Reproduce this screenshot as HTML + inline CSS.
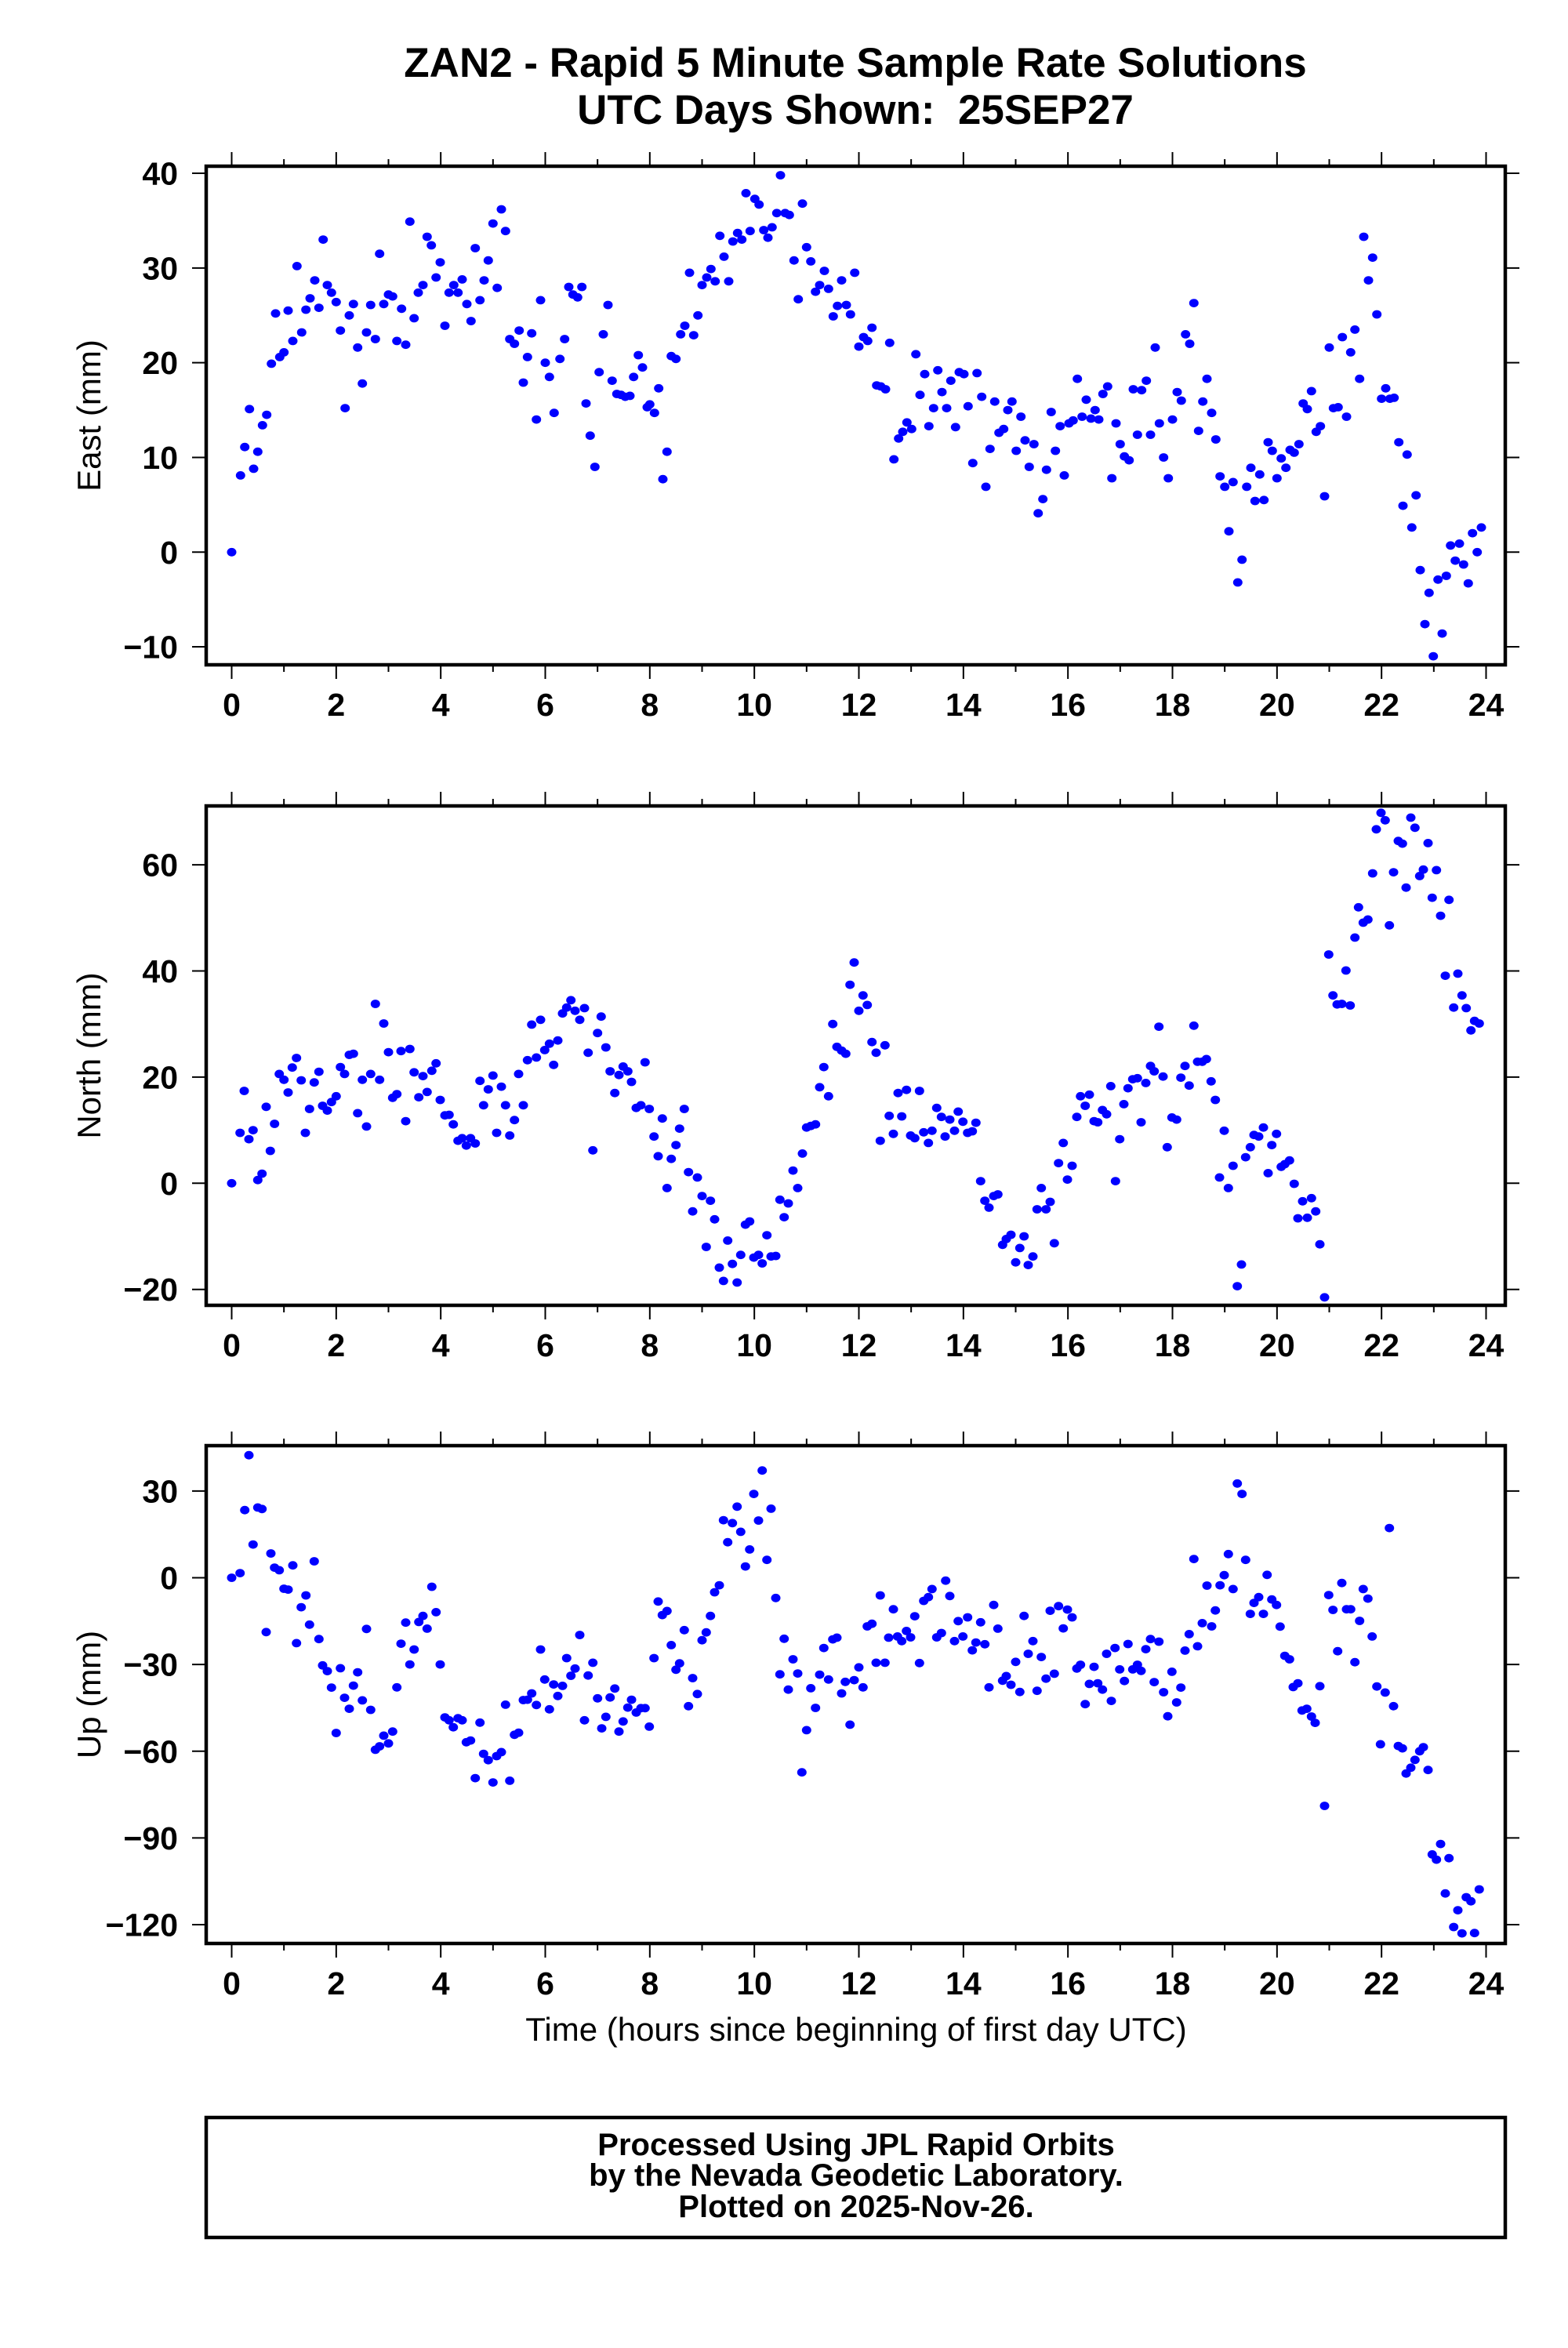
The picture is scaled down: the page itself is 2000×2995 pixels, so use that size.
<!DOCTYPE html>
<html><head><meta charset="utf-8">
<style>
html,body{margin:0;padding:0;background:#fff;}
svg{display:block;font-family:"Liberation Sans",Arial,sans-serif;}
</style></head>
<body>
<svg id="chart" width="2000" height="2995" viewBox="0 0 2000 2995" xmlns="http://www.w3.org/2000/svg">
<rect x="0" y="0" width="2000" height="2995" fill="#fff"/>
<text x="1091" y="98" font-size="53" font-weight="bold" text-anchor="middle">ZAN2 - Rapid 5 Minute Sample Rate Solutions</text>
<text x="1091" y="158" font-size="53" font-weight="bold" text-anchor="middle">UTC Days Shown:&#160; 25SEP27</text>
<g id="panels"></g>
<text x="1092" y="2603" font-size="42" text-anchor="middle">Time (hours since beginning of first day UTC)</text>
<rect x="263" y="2701" width="1657" height="153" fill="none" stroke="#000" stroke-width="4.5"/>
<text x="1092" y="2749" font-size="40" font-weight="bold" text-anchor="middle">Processed Using JPL Rapid Orbits</text>
<text x="1092" y="2788" font-size="40" font-weight="bold" text-anchor="middle">by the Nevada Geodetic Laboratory.</text>
<text x="1092" y="2828" font-size="40" font-weight="bold" text-anchor="middle">Plotted on 2025-Nov-26.</text>
</svg>
<script>
const eastT=[0,0.17,0.25,0.34,0.42,0.5,0.59,0.67,0.76,0.84,0.92,1.0,1.08,1.17,1.25,1.34,1.42,1.5,1.59,1.67,1.75,1.83,1.91,2.0,2.08,2.17,2.25,2.33,2.41,2.5,2.58,2.66,2.75,2.83,2.91,3.0,3.08,3.16,3.25,3.33,3.41,3.49,3.57,3.66,3.74,3.82,3.91,3.99,4.08,4.16,4.25,4.33,4.41,4.5,4.58,4.66,4.75,4.83,4.91,5.0,5.08,5.16,5.24,5.32,5.41,5.5,5.58,5.66,5.74,5.83,5.91,6.0,6.08,6.17,6.28,6.37,6.45,6.53,6.62,6.7,6.78,6.86,6.95,7.03,7.11,7.2,7.28,7.37,7.45,7.53,7.62,7.69,7.78,7.86,7.95,8.0,8.09,8.17,8.25,8.33,8.41,8.5,8.59,8.67,8.76,8.84,8.92,9.0,9.09,9.17,9.25,9.34,9.42,9.51,9.59,9.68,9.76,9.84,9.92,10.01,10.09,10.18,10.26,10.34,10.43,10.5,10.59,10.67,10.76,10.84,10.92,11.0,11.08,11.17,11.25,11.34,11.42,11.51,11.59,11.67,11.76,11.84,11.92,12.0,12.09,12.17,12.25,12.34,12.42,12.51,12.59,12.67,12.76,12.84,12.92,13.01,13.09,13.17,13.26,13.34,13.43,13.51,13.59,13.68,13.76,13.85,13.92,14.01,14.09,14.18,14.26,14.35,14.43,14.51,14.6,14.68,14.77,14.85,14.93,15.01,15.1,15.18,15.26,15.35,15.43,15.52,15.59,15.68,15.76,15.85,15.93,16.02,16.1,16.18,16.27,16.35,16.44,16.52,16.59,16.67,16.76,16.84,16.92,17.0,17.08,17.17,17.25,17.33,17.41,17.5,17.58,17.67,17.75,17.83,17.92,18.0,18.09,18.17,18.25,18.33,18.41,18.5,18.58,18.66,18.75,18.83,18.91,19.0,19.08,19.16,19.25,19.33,19.42,19.5,19.58,19.67,19.75,19.83,19.91,20.0,20.08,20.17,20.25,20.33,20.42,20.5,20.58,20.66,20.75,20.83,20.91,21.0,21.08,21.17,21.25,21.33,21.41,21.49,21.58,21.66,21.75,21.83,21.91,22.0,22.08,22.16,22.24,22.33,22.41,22.49,22.58,22.66,22.74,22.83,22.91,22.99,23.08,23.16,23.24,23.32,23.41,23.49,23.57,23.66,23.74,23.83,23.91];
const eastV=[0,8.1,11.1,15.1,8.8,10.6,13.4,14.5,19.9,25.2,20.6,21.1,25.5,22.3,30.2,23.2,25.6,26.8,28.7,25.8,33.0,28.2,27.4,26.4,23.4,15.2,25.0,26.2,21.6,17.8,23.2,26.1,22.5,31.5,26.2,27.2,27.0,22.3,25.7,21.9,34.9,24.7,27.4,28.2,33.3,32.4,29.0,30.6,23.9,27.4,28.2,27.4,28.8,26.2,24.4,32.1,26.6,28.7,30.8,34.7,27.9,36.2,33.9,22.5,22.0,23.4,17.9,20.6,23.1,14.0,26.6,20.0,18.5,14.7,20.4,22.5,28.0,27.2,26.9,28.0,15.7,12.3,9.0,19.0,23.0,26.1,18.1,16.7,16.6,16.4,16.5,18.5,20.8,19.5,15.3,15.6,14.7,17.3,7.7,10.6,20.7,20.4,23.0,23.9,29.5,22.9,25.0,28.2,29.0,29.9,28.6,33.4,31.2,28.6,32.8,33.7,33.0,37.9,33.9,37.3,36.7,34.0,33.2,34.3,35.8,39.8,35.8,35.6,30.8,26.7,36.8,32.2,30.7,27.5,28.2,29.7,27.8,24.9,26.0,28.7,26.1,25.1,29.5,21.7,22.7,22.3,23.7,17.6,17.5,17.2,22.1,9.8,12.0,12.7,13.7,13.0,20.9,16.6,18.8,13.3,15.2,19.2,16.9,15.2,18.1,13.2,19.0,18.8,15.4,9.4,18.9,16.4,6.9,10.9,15.9,12.6,13.0,15.0,15.9,10.7,14.3,11.8,9.0,11.4,4.1,5.6,8.7,14.8,10.7,13.3,8.1,13.6,13.9,18.3,14.3,16.1,14.1,15.0,14.0,16.7,17.5,7.8,13.6,11.4,10.1,9.7,17.2,12.4,17.1,18.1,12.4,21.6,13.6,10.0,7.8,14.0,16.9,16.0,23.0,22.0,26.3,12.8,15.9,18.3,14.7,11.9,8.0,6.9,2.2,7.4,-3.2,-0.8,6.9,8.9,5.4,8.2,5.5,11.6,10.7,7.8,9.9,8.9,10.8,10.5,11.4,15.7,15.1,17.0,12.7,13.3,5.9,21.6,15.2,15.3,22.7,14.3,21.1,23.5,18.3,33.3,28.7,31.1,25.1,16.2,17.3,16.2,16.3,11.6,4.9,10.3,2.6,6.0,-1.9,-7.6,-4.3,-11.0,-2.9,-8.6,-2.5,0.7,-0.9,0.9,-1.3,-3.3,2.0,0.0,2.6];

const northT=[0,0.16,0.24,0.33,0.41,0.5,0.58,0.66,0.74,0.82,0.91,1.0,1.08,1.16,1.24,1.33,1.41,1.49,1.58,1.67,1.74,1.83,1.91,2.0,2.08,2.16,2.25,2.33,2.41,2.5,2.58,2.66,2.75,2.83,2.91,3.0,3.08,3.16,3.24,3.33,3.41,3.49,3.58,3.66,3.74,3.83,3.91,3.99,4.08,4.16,4.24,4.33,4.41,4.49,4.57,4.66,4.75,4.82,4.91,5.0,5.07,5.16,5.24,5.32,5.41,5.49,5.58,5.66,5.74,5.83,5.91,5.99,6.08,6.16,6.24,6.33,6.41,6.49,6.57,6.66,6.75,6.82,6.91,7.0,7.07,7.16,7.24,7.33,7.41,7.49,7.58,7.65,7.74,7.83,7.91,7.99,8.08,8.16,8.24,8.33,8.41,8.5,8.57,8.66,8.74,8.82,8.91,9.0,9.08,9.16,9.24,9.33,9.41,9.49,9.58,9.67,9.74,9.83,9.91,9.99,10.08,10.15,10.24,10.32,10.41,10.49,10.57,10.65,10.74,10.83,10.92,11.0,11.08,11.17,11.25,11.33,11.42,11.5,11.58,11.67,11.75,11.83,11.91,12.0,12.08,12.16,12.25,12.33,12.41,12.5,12.58,12.66,12.75,12.82,12.91,12.99,13.07,13.16,13.24,13.33,13.4,13.49,13.58,13.65,13.74,13.83,13.9,13.99,14.08,14.17,14.24,14.33,14.41,14.49,14.58,14.66,14.75,14.82,14.91,15.0,15.08,15.16,15.24,15.33,15.41,15.49,15.58,15.66,15.74,15.82,15.91,15.99,16.08,16.17,16.24,16.33,16.41,16.5,16.57,16.66,16.74,16.82,16.91,16.99,17.07,17.15,17.24,17.33,17.4,17.49,17.58,17.65,17.74,17.82,17.9,17.99,18.08,18.16,18.24,18.32,18.41,18.48,18.57,18.65,18.74,18.82,18.9,18.99,19.07,19.16,19.24,19.32,19.4,19.49,19.56,19.65,19.74,19.83,19.9,19.99,20.08,20.15,20.24,20.33,20.4,20.49,20.58,20.66,20.74,20.82,20.91,20.99,21.07,21.15,21.24,21.32,21.4,21.49,21.56,21.65,21.74,21.83,21.9,21.99,22.07,22.15,22.23,22.32,22.4,22.47,22.56,22.64,22.73,22.8,22.89,22.97,23.05,23.13,23.22,23.29,23.38,23.46,23.54,23.62,23.71,23.78,23.87];
const northV=[0,9.5,17.4,8.3,10.0,0.6,1.8,14.4,6.1,11.2,20.6,19.5,17.1,21.8,23.6,19.4,9.5,14.0,19.0,21.0,14.6,13.7,15.3,16.4,21.9,20.6,24.2,24.4,13.2,19.5,10.7,20.6,33.8,19.5,30.1,24.7,16.1,16.8,24.9,11.7,25.3,20.9,16.2,20.2,17.2,21.2,22.6,15.7,12.8,12.9,11.1,8.0,8.5,7.1,8.5,7.5,19.3,14.7,17.7,20.3,9.5,18.2,14.7,9.0,11.9,20.6,14.7,23.2,29.9,23.7,30.8,25.1,26.3,22.3,26.9,32.0,33.1,34.5,32.5,30.8,33.0,24.6,6.2,28.3,31.4,25.6,21.1,17.0,20.4,22.0,21.1,19.1,14.2,14.7,22.8,14.0,8.8,5.1,12.2,-0.9,4.6,7.2,10.3,14.0,2.1,-5.3,1.1,-2.4,-12.0,-3.3,-6.8,-15.9,-18.4,-10.8,-15.2,-18.7,-13.5,-7.8,-7.2,-14.0,-13.5,-15.1,-9.8,-13.8,-13.7,-3.1,-6.4,-3.8,2.4,-0.9,5.6,10.5,10.8,11.1,18.1,21.9,16.4,30.0,25.7,25.0,24.4,37.4,41.6,32.5,35.4,33.6,26.6,24.6,8.0,26.0,12.7,9.3,17.0,12.6,17.6,9.0,8.5,17.4,9.6,7.6,9.9,14.2,12.5,8.8,12.0,9.9,13.5,11.6,9.5,9.8,11.4,0.4,-3.3,-4.6,-2.4,-2.1,-11.6,-10.5,-9.7,-14.9,-12.2,-10.0,-15.4,-13.8,-4.9,-0.9,-4.9,-3.5,-11.3,3.8,7.6,0.7,3.3,12.5,16.4,14.6,16.7,11.7,11.5,13.8,13.0,18.3,0.4,8.3,14.9,17.9,19.6,19.8,11.5,18.9,22.1,21.1,29.5,20.1,6.8,12.4,12.0,19.9,22.1,18.4,29.7,22.9,22.9,23.4,19.2,15.7,1.1,9.9,-0.9,3.3,-19.4,-15.3,4.9,6.8,9.1,8.8,10.5,1.9,7.2,9.3,3.1,3.6,4.3,-0.1,-6.6,-3.4,-6.5,-2.8,-5.3,-11.5,-21.5,43.1,35.4,33.7,33.8,40.1,33.5,46.3,52.0,49.1,49.7,58.4,66.7,69.8,68.4,48.6,58.6,64.5,64.0,55.7,68.9,67.0,57.9,59.1,64.1,53.8,59.0,50.4,39.1,53.4,33.1,39.5,35.4,33.0,28.8,30.6,30.1];

const upT=[0,0.16,0.25,0.33,0.41,0.5,0.58,0.66,0.75,0.82,0.91,1.0,1.08,1.17,1.24,1.33,1.42,1.49,1.58,1.67,1.74,1.83,1.91,2.0,2.08,2.16,2.25,2.33,2.41,2.5,2.58,2.66,2.75,2.83,2.91,3.0,3.08,3.16,3.24,3.33,3.41,3.49,3.58,3.66,3.74,3.83,3.91,3.99,4.08,4.16,4.24,4.33,4.41,4.49,4.57,4.66,4.75,4.82,4.91,5.0,5.07,5.16,5.24,5.32,5.41,5.49,5.58,5.66,5.74,5.83,5.91,5.99,6.08,6.16,6.24,6.33,6.41,6.49,6.57,6.66,6.75,6.82,6.91,7.0,7.08,7.16,7.24,7.33,7.41,7.49,7.58,7.65,7.74,7.83,7.91,7.99,8.08,8.16,8.24,8.33,8.41,8.5,8.57,8.66,8.74,8.82,8.91,9.0,9.08,9.16,9.24,9.33,9.41,9.49,9.58,9.67,9.74,9.83,9.91,9.99,10.08,10.15,10.24,10.32,10.41,10.49,10.57,10.65,10.74,10.83,10.91,11.0,11.08,11.17,11.25,11.33,11.42,11.5,11.58,11.67,11.74,11.83,11.91,12.0,12.08,12.16,12.25,12.33,12.41,12.5,12.57,12.66,12.74,12.82,12.91,12.99,13.07,13.16,13.24,13.33,13.4,13.49,13.58,13.66,13.74,13.83,13.9,13.99,14.08,14.17,14.24,14.33,14.41,14.49,14.58,14.66,14.75,14.82,14.91,15.0,15.08,15.16,15.24,15.33,15.41,15.49,15.58,15.66,15.74,15.82,15.91,15.99,16.08,16.17,16.24,16.33,16.41,16.5,16.57,16.66,16.74,16.83,16.9,16.99,17.08,17.15,17.24,17.33,17.4,17.49,17.58,17.65,17.74,17.83,17.91,17.99,18.08,18.16,18.24,18.32,18.41,18.48,18.57,18.66,18.75,18.82,18.91,18.99,19.07,19.16,19.24,19.33,19.4,19.49,19.56,19.65,19.74,19.81,19.9,19.99,20.06,20.15,20.24,20.31,20.4,20.48,20.57,20.66,20.73,20.82,20.91,20.99,21.07,21.16,21.24,21.33,21.41,21.49,21.58,21.65,21.74,21.82,21.91,21.98,22.07,22.15,22.23,22.32,22.4,22.47,22.56,22.64,22.73,22.8,22.89,22.97,23.05,23.13,23.22,23.29,23.38,23.46,23.54,23.62,23.71,23.78,23.87];
const upV=[0,1.6,23.4,42.4,11.5,24.3,23.8,-18.8,8.4,3.5,2.6,-3.8,-4.1,4.3,-22.6,-10.2,-6.1,-16.2,5.7,-21.2,-30.3,-32.3,-38.0,-53.7,-31.3,-41.5,-45.3,-37.3,-32.7,-42.4,-17.7,-45.7,-59.5,-58.3,-54.6,-57.3,-53.2,-37.9,-22.8,-15.5,-30.0,-24.8,-15.3,-13.2,-17.6,-3.1,-11.9,-30.0,-48.3,-49.3,-51.7,-48.6,-49.3,-56.9,-56.3,-69.3,-50.1,-60.9,-63.1,-70.8,-61.7,-60.3,-43.9,-70.2,-54.3,-53.6,-42.3,-42.2,-40.0,-44.0,-24.8,-35.2,-45.5,-36.9,-40.9,-37.4,-27.8,-33.9,-31.4,-19.8,-49.3,-33.8,-29.4,-41.7,-52.1,-48.1,-41.4,-38.3,-53.2,-49.7,-44.9,-42.2,-46.6,-45.1,-45.1,-51.5,-27.8,-8.2,-12.9,-11.5,-23.3,-31.8,-29.6,-18.1,-44.4,-34.7,-40.2,-21.6,-18.9,-13.2,-5.0,-2.6,19.9,12.3,18.9,24.6,15.9,3.9,9.8,29.0,19.8,37.1,6.2,23.9,-7.0,-33.4,-21.1,-38.7,-28.2,-33.1,-67.3,-52.7,-38.2,-45.0,-33.5,-24.3,-35.2,-21.3,-20.7,-40.0,-36.0,-50.8,-35.4,-31.0,-37.9,-16.8,-15.9,-29.4,-6.1,-29.4,-20.7,-10.9,-20.3,-21.9,-18.4,-20.6,-13.3,-29.5,-8.0,-6.7,-3.9,-20.6,-19.1,-1.0,-6.3,-21.9,-15.0,-20.3,-13.7,-25.1,-22.4,-15.4,-23.0,-37.9,-9.4,-17.6,-35.6,-34.0,-37.0,-29.1,-39.5,-13.2,-26.3,-21.9,-39.1,-27.4,-34.9,-11.4,-33.2,-9.8,-17.5,-11.0,-13.7,-31.4,-30.1,-43.7,-36.7,-30.8,-36.5,-38.7,-26.3,-42.6,-24.3,-31.7,-35.7,-22.9,-31.7,-30.1,-32.2,-24.7,-21.2,-36.1,-22.1,-39.6,-47.9,-32.5,-43.1,-38.0,-25.2,-19.5,6.5,-23.7,-15.7,-2.7,-16.8,-11.3,-2.6,0.9,8.2,-3.9,32.6,29.0,6.2,-12.5,-8.7,-6.7,-12.5,1.0,-7.5,-9.4,-16.9,-27.0,-28.2,-37.8,-36.5,-45.9,-45.3,-48.0,-50.2,-37.5,-78.9,-6.0,-11.1,-25.4,-1.8,-10.9,-10.9,-29.2,-14.9,-3.9,-7.2,-20.3,-37.6,-57.6,-39.7,17.2,-44.4,-58.2,-59.0,-67.7,-65.7,-63.0,-60.0,-58.6,-66.5,-95.7,-97.5,-92.1,-109.2,-97.0,-120.8,-115.0,-123.0,-110.5,-111.9,-122.9,-107.8];

const xTicks=[0,2,4,6,8,10,12,14,16,18,20,22,24];
const eastTicks=[-10,0,10,20,30,40];
const northTicks=[-20,0,20,40,60];
const upTicks=[-120,-90,-60,-30,0,30];

const NS='http://www.w3.org/2000/svg';
const X0=263,X1=1920,XMIN=-0.4875,XMAX=24.3675;
function xs(h){return X0+(h-XMIN)/(XMAX-XMIN)*(X1-X0);}
function mk(tag,attrs,parent){const e=document.createElementNS(NS,tag);for(const k in attrs)e.setAttribute(k,attrs[k]);parent.appendChild(e);return e;}
function fmt(v){return v<0?'\u2212'+Math.abs(v):String(v);}

const panelsG=document.getElementById('panels');
const panels=[
 {key:'east',label:'East (mm)',T:eastT,V:eastV,ticks:eastTicks,top:212,bot:848,ymin:-11.9,ymax:40.75},
 {key:'north',label:'North (mm)',T:northT,V:northV,ticks:northTicks,top:1028,bot:1665,ymin:-23.0,ymax:71.1},
 {key:'up',label:'Up (mm)',T:upT,V:upV,ticks:upTicks,top:1844,bot:2479,ymin:-126.5,ymax:45.7}
];
panels.forEach(p=>{
  const g=mk('g',{},panelsG);
  
  
  const ys=v=>p.bot-(v-p.ymin)/(p.ymax-p.ymin)*(p.bot-p.top);
  const pg=mk('g',{fill:'#0000ff'},g);
  
  
  for(let i=0;i<p.T.length;i++){
    const c=mk('ellipse',{cx:xs(p.T[i]).toFixed(1),cy:ys(p.V[i]).toFixed(1),rx:6.0,ry:5.4},pg);
    
    
  }
  for(let h=0;h<=24;h++){
    const x=xs(h),len=(h%2===0)?18:9;
    mk('line',{x1:x,x2:x,y1:p.top,y2:p.top-len,stroke:'#000','stroke-width':2},g);
    mk('line',{x1:x,x2:x,y1:p.bot,y2:p.bot+len,stroke:'#000','stroke-width':2},g);
  }
  xTicks.forEach(h=>{
    const t=mk('text',{x:xs(h),y:p.bot+65,'font-size':41,'font-weight':'bold','text-anchor':'middle'},g);
    t.textContent=h;
    
    
  });
  p.ticks.forEach(v=>{
    const y=ys(v);
    mk('line',{x1:X0,x2:X0-18,y1:y,y2:y,stroke:'#000','stroke-width':2},g);
    mk('line',{x1:X1,x2:X1+18,y1:y,y2:y,stroke:'#000','stroke-width':2},g);
    const t=mk('text',{x:227,y:y+14.5,'font-size':41,'font-weight':'bold','text-anchor':'end'},g);
    t.textContent=fmt(v);
    
    
  });
  const fr=mk('rect',{x:X0,y:p.top,width:X1-X0,height:p.bot-p.top,fill:'none',stroke:'#000','stroke-width':4.5},g);
  
  
  const cy=(p.top+p.bot)/2;
  const yl=mk('text',{x:0,y:0,'font-size':42,'text-anchor':'middle',transform:'translate(128,'+cy+') rotate(-90)'},g);
  yl.textContent=p.label;
  
  
});
</script>
</body></html>
